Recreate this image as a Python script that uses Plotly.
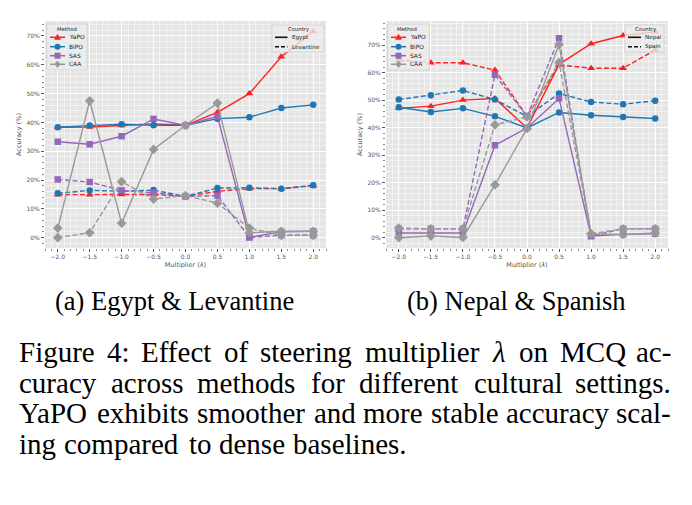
import plotly.graph_objects as go

# ---------------- data ----------------
lam = [-2.0, -1.5, -1.0, -0.5, 0.0, 0.5, 1.0, 1.5, 2.0]
methods = ["YaPO", "BiPO", "SAS", "CAA"]

# (a) Egypt (solid) & Levantine (dashed)
egypt_yapo = [38.3, 38.4, 38.9, 39.5, 39.0, 43.5, 50.0, 62.8, 71.6]
egypt_bipo = [38.3, 38.9, 39.4, 39.0, 39.0, 41.3, 41.8, 45.0, 46.1]
egypt_sas = [33.3, 32.4, 35.2, 41.2, 39.0, 42.1, 0.1, 2.0, 2.2]
egypt_caa = [3.3, 47.5, 5.0, 30.6, 39.0, 46.7, 1.7, 2.2, 2.2]
lev_yapo = [14.9, 14.9, 15.0, 15.0, 14.3, 16.1, 17.0, 17.0, 18.0]
lev_bipo = [15.4, 16.4, 16.1, 16.5, 14.3, 17.2, 17.3, 17.0, 18.2]
lev_sas = [20.2, 19.3, 16.4, 15.6, 14.3, 14.6, 0.1, 0.8, 0.8]
lev_caa = [0.0, 1.7, 19.4, 13.4, 14.6, 12.0, 3.3, 0.8, 0.8]

# (b) Nepal (solid) & Spain (dashed)
nepal_yapo = [47.0, 47.8, 50.0, 50.6, 39.9, 63.0, 70.5, 73.5, 74.8]
nepal_bipo = [47.4, 45.7, 47.0, 44.1, 39.9, 45.5, 44.5, 43.9, 43.3]
nepal_sas = [1.7, 1.7, 1.7, 33.6, 39.9, 50.6, 0.6, 1.2, 1.4]
nepal_caa = [0.0, 0.6, 0.1, 19.2, 39.7, 70.2, 1.4, 1.2, 1.7]
spain_yapo = [64.6, 63.6, 63.6, 60.9, 44.1, 62.8, 61.6, 61.6, 68.2]
spain_bipo = [50.2, 51.8, 53.5, 50.2, 44.1, 52.4, 49.3, 48.5, 49.8]
spain_sas = [3.2, 3.2, 3.2, 59.2, 44.1, 72.5, 0.6, 3.2, 3.2]
spain_caa = [3.5, 3.2, 3.2, 41.0, 43.9, 63.7, 1.4, 3.2, 3.2]

x_ticks = [-2.0, -1.5, -1.0, -0.5, 0.0, 0.5, 1.0, 1.5, 2.0]
y_ticks = [0, 10, 20, 30, 40, 50, 60, 70]
y_tick_labels = ["0%", "10%", "20%", "30%", "40%", "50%", "60%", "70%"]

sub_captions = ["(a) Egypt & Levantine", "(b) Nepal & Spanish"]
caption_lines = [
    "Figure 4:  Effect of steering multiplier λ on MCQ ac-",
    "curacy across methods for different cultural settings.",
    "YaPO exhibits smoother and more stable accuracy scal-",
    "ing compared to dense baselines.",
]

# ---------------- styling ----------------
W, H = 692, 505
def px(x):
    return x / W
def py(y):
    return 1 - y / H

colors = {"YaPO": "#FF2020", "BiPO": "#1F77B4", "SAS": "#9467BD", "CAA": "#999999"}
symbols = {"YaPO": "triangle-up", "BiPO": "circle", "SAS": "square", "CAA": "diamond"}
msizes = {"YaPO": 7, "BiPO": 6.5, "SAS": 6.5, "CAA": 7.5}
DASH = "5px,2.4px"
TXT = "#555555"
FONT = "DejaVu Sans"
SERIF = "Liberation Serif, Tinos, Times New Roman, DejaVu Serif, serif"

panels = [
    dict(xa="x", ya="y",
         solid=[egypt_yapo, egypt_bipo, egypt_sas, egypt_caa],
         dashed=[lev_yapo, lev_bipo, lev_sas, lev_caa],
         countries=["Egypt", "Levantine"]),
    dict(xa="x2", ya="y2",
         solid=[nepal_yapo, nepal_bipo, nepal_sas, nepal_caa],
         dashed=[spain_yapo, spain_bipo, spain_sas, spain_caa],
         countries=["Nepal", "Spain"]),
]

fig = go.Figure()
for p in panels:
    for i, m in enumerate(methods):
        for vals, dash, cname in ((p["solid"][i], "solid", p["countries"][0]),
                                  (p["dashed"][i], DASH, p["countries"][1])):
            fig.add_trace(go.Scatter(
                x=lam, y=vals, xaxis=p["xa"], yaxis=p["ya"],
                mode="lines+markers", name=f"{m} {cname}",
                line=dict(color=colors[m], width=1.4, dash=dash),
                marker=dict(symbol=symbols[m], size=msizes[m], color=colors[m], line=dict(width=0)),
                showlegend=False, cliponaxis=True,
            ))

def xaxis_cfg(dom):
    return dict(
        domain=dom, range=[-2.2, 2.2], tickvals=x_ticks, tickformat=".1f",
        ticks="outside", ticklen=3, tickwidth=0.8, tickcolor=TXT,
        tickfont=dict(family=FONT, size=6, color=TXT),
        showgrid=True, gridcolor="white", gridwidth=0.8, zeroline=False, showline=False,
        minor=dict(tick0=0, dtick=0.1, ticks="outside", ticklen=1.6, tickwidth=0.6,
                   tickcolor="#888888", showgrid=True, gridcolor="rgba(255,255,255,0.45)",
                   gridwidth=0.5),
        title=dict(text="Multiplier (<i>λ</i>)", font=dict(family=FONT, size=6.5, color=TXT),
                   standoff=3),
        fixedrange=True,
    )

def yaxis_cfg(dom, rng, anchor):
    return dict(
        domain=dom, range=rng, tickvals=y_ticks, ticktext=y_tick_labels, anchor=anchor,
        ticks="outside", ticklen=3, tickwidth=0.8, tickcolor=TXT,
        tickfont=dict(family=FONT, size=6, color=TXT),
        showgrid=True, gridcolor="white", gridwidth=0.8, zeroline=False, showline=False,
        minor=dict(tick0=0, dtick=2, ticks="outside", ticklen=1.6, tickwidth=0.6,
                   tickcolor="#888888", showgrid=True, gridcolor="rgba(255,255,255,0.45)",
                   gridwidth=0.5),
        title=dict(text="Accuracy (%)", font=dict(family=FONT, size=6.5, color=TXT),
                   standoff=4),
        fixedrange=True,
    )

ydom = [py(248), py(21)]
fig.update_layout(
    width=W, height=H, margin=dict(l=0, r=0, t=0, b=0),
    paper_bgcolor="white", plot_bgcolor="#E5E5E5", showlegend=False,
    xaxis=xaxis_cfg([px(45), px(326)]),
    yaxis=yaxis_cfg(ydom, [-3.6, 75.2], "x"),
    xaxis2=dict(xaxis_cfg([px(386), px(668)]), anchor="y2"),
    yaxis2=yaxis_cfg(ydom, [-3.75, 78.75], "x2"),
)

shapes = []
annots = []

# ---- legends (drawn manually to match compact matplotlib legends) ----
def marker_shape(m, cx, cy, color):
    base = dict(xref="paper", yref="paper", xsizemode="pixel", ysizemode="pixel",
                xanchor=px(cx), yanchor=py(cy), fillcolor=color, line=dict(width=0), layer="above")
    if m == "BiPO":
        return dict(base, type="circle", x0=-3, x1=3, y0=-3, y1=3)
    if m == "SAS":
        return dict(base, type="rect", x0=-3, x1=3, y0=-3, y1=3)
    if m == "YaPO":
        return dict(base, type="path", path="M -3.5,-2.5 L 3.5,-2.5 L 0,3.5 Z")
    return dict(base, type="path", path="M 0,-3.8 L 3,0 L 0,3.8 L -3,0 Z")

def box(x0, x1, y0, y1):
    shapes.append(dict(type="rect", xref="paper", yref="paper", layer="above",
                       x0=px(x0), x1=px(x1), y0=py(y1), y1=py(y0),
                       fillcolor="rgba(236,236,236,0.8)", line=dict(color="rgba(205,205,205,0.9)", width=0.8)))

def label(x, y, text, size, anchor="left", color="#222222", family=FONT):
    annots.append(dict(xref="paper", yref="paper", x=px(x), y=py(y), text=text,
                       showarrow=False, xanchor=anchor, yanchor="middle", borderpad=0,
                       font=dict(family=family, size=size, color=color)))

legend_specs = [
    dict(box=(46.7, 87.3, 24, 70), seg=(50, 65), text_x=68.3, title_x=67),
    dict(box=(387.7, 429.3, 24, 70), seg=(391, 406), text_x=408.7, title_x=407.5),
]
country_specs = [
    dict(box=(272, 324, 25, 52), seg=(275, 287.5), text_x=290.5, title_x=298),
    dict(box=(625, 664, 25, 52), seg=(628, 641), text_x=644, title_x=645),
]
entry_y = [37.3, 46.7, 55.7, 64.3]
for k, p in enumerate(panels):
    ls = legend_specs[k]
    box(*ls["box"])
    label(ls["title_x"], 29, "Method", 5.3, "center")
    for i, m in enumerate(methods):
        y = entry_y[i]
        shapes.append(dict(type="line", xref="paper", yref="paper", layer="above",
                           x0=px(ls["seg"][0]), x1=px(ls["seg"][1]), y0=py(y), y1=py(y),
                           line=dict(color=colors[m], width=1.5)))
        shapes.append(marker_shape(m, (ls["seg"][0] + ls["seg"][1]) / 2, y, colors[m]))
        label(ls["text_x"], y, m, 5.9)
    cs = country_specs[k]
    box(*cs["box"])
    label(cs["title_x"], 29, "Country", 5.3, "center")
    for j, (cname, dash) in enumerate(zip(p["countries"], ["solid", "4px,2px"])):
        y = entry_y[j]
        shapes.append(dict(type="line", xref="paper", yref="paper", layer="above",
                           x0=px(cs["seg"][0]), x1=px(cs["seg"][1]), y0=py(y), y1=py(y),
                           line=dict(color="#111111", width=1.6, dash=dash)))
        label(cs["text_x"], y, cname, 5.6)

# ---- sub captions ----
for cx, t in zip([174, 516], sub_captions):
    label(cx, 301, t.replace("&", "&amp;"), 26.5, "center", "black", SERIF)

# ---- main caption, justified with Times metrics ----
TIMES = {' ': 250, 'a': 444, 'b': 500, 'c': 444, 'd': 500, 'e': 444, 'f': 333, 'g': 500,
         'h': 500, 'i': 278, 'j': 278, 'k': 500, 'l': 278, 'm': 778, 'n': 500, 'o': 500,
         'p': 500, 'q': 500, 'r': 333, 's': 389, 't': 278, 'u': 500, 'v': 500, 'w': 722,
         'x': 500, 'y': 500, 'z': 444, 'A': 722, 'B': 667, 'C': 667, 'D': 722, 'E': 611,
         'F': 556, 'G': 722, 'L': 611, 'M': 889, 'N': 722, 'O': 722, 'P': 556, 'Q': 722,
         'S': 556, 'Y': 722, '(': 333, ')': 333, ':': 278, '.': 250, ',': 250, '-': 333,
         '&': 778, '4': 500, 'λ': 550}
CF = 29
def wwidth(w):
    return sum(round(TIMES.get(c, 500) * CF / 1000 + 0.1) for c in w)

L_X, R_X = 18, 672
line_y = [352, 382.5, 413, 443.5]
for li, (ln, yy) in enumerate(zip(caption_lines, line_y)):
    words = ln.split()
    widths = [wwidth(w) for w in words]
    last = li == len(caption_lines) - 1
    gap = 0.25 * CF if last else (R_X - L_X - sum(widths)) / (len(words) - 1)
    x = L_X
    for wi, (w, ww) in enumerate(zip(words, widths)):
        txt = "<i>λ</i>" if w == "λ" else w
        if (not last) and wi == len(words) - 1:
            label(R_X, yy, txt, CF, "right", "black", SERIF)
        else:
            label(x, yy, txt, CF, "left", "black", SERIF)
        x += ww + gap

fig.update_layout(shapes=shapes, annotations=annots)
fig.write_html("out.html")
